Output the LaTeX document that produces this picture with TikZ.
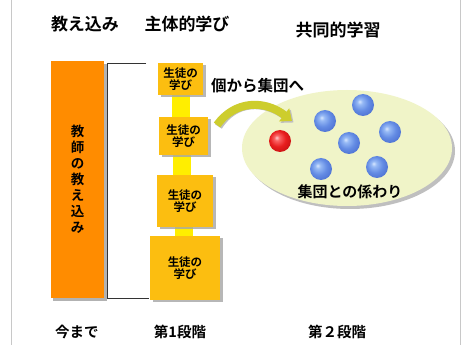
\documentclass[tikz,border=0pt]{standalone}
\usepackage{fontspec}
\newfontfamily\cjk{Noto Sans CJK JP}[BoldFont={Noto Sans CJK JP Bold}]
\usetikzlibrary{shadows,arrows.meta,shapes.geometric}
\definecolor{orangebar}{RGB}{255,140,0}
\definecolor{goldbox}{RGB}{252,190,16}
\definecolor{linkyel}{RGB}{255,238,0}
\definecolor{ellfill}{RGB}{240,244,200}
\definecolor{arrowol}{RGB}{205,205,45}
\definecolor{frameg}{RGB}{200,200,200}
\definecolor{blhi}{RGB}{215,230,255}
\definecolor{blmid}{RGB}{150,185,245}
\definecolor{blbase}{RGB}{100,140,228}
\definecolor{bldark}{RGB}{70,105,205}
\definecolor{rdhi}{RGB}{255,205,205}
\definecolor{rdmid}{RGB}{250,100,100}
\definecolor{rdbase}{RGB}{232,30,30}
\definecolor{rddark}{RGB}{190,15,15}
\pgfdeclareradialshading{myballb}{\pgfqpoint{-8bp}{8bp}}{color(0bp)=(blhi); color(6bp)=(blmid); color(18bp)=(blbase); color(34bp)=(bldark); color(50bp)=(bldark)}
\pgfdeclareradialshading{myballr}{\pgfqpoint{-8bp}{8bp}}{color(0bp)=(rdhi); color(6bp)=(rdmid); color(18bp)=(rdbase); color(34bp)=(rddark); color(50bp)=(rddark)}
\tikzset{
  head/.style={font=\cjk\bfseries\fontsize{17}{19}\selectfont, text=black, inner sep=0pt},
  stage/.style={font=\cjk\bfseries\fontsize{14.5}{16}\selectfont, text=black, inner sep=0pt},
  stbox/.style={fill=goldbox, draw=none, drop shadow={shadow xshift=2.5pt, shadow yshift=-2.5pt, fill=black!35, opacity=0.8},
    font=\cjk\bfseries\fontsize{11.5}{11.5}\selectfont, align=center, inner sep=0pt},
  link/.style={fill=linkyel, draw=none},
  ballb/.style={circle, minimum size=22pt, inner sep=0pt, shading=myballb},
  ballr/.style={circle, minimum size=22pt, inner sep=0pt, shading=myballr},
}
\begin{document}
\begin{tikzpicture}[x=1pt,y=-1pt]
\useasboundingbox (0,0) rectangle (475,345);
\fill[white] (0,0) rectangle (475,345);
% frame lines
\draw[frameg, line width=0.8pt] (11.5,0) -- (11.5,345);
\draw[frameg, line width=0.8pt] (460.5,0) -- (460.5,345);
% headings
\node[head] (h1) at (85,24) {教え込み};
\node[head] (h2) at (187,24) {主体的学び};
\node[head] (h3) at (338,30) {共同的学習};
% bottom labels
\node[stage] (b1) at (77,332) {今まで};
\node[stage] (b2) at (180,332) {第1段階};
\node[stage] (b3) at (337,332) {第２段階};
% orange bar
\fill[black!30] (53,64) rectangle (107,301);
\node[fill=orangebar, minimum width=53pt, minimum height=237pt, inner sep=0pt,
  font=\cjk\bfseries\fontsize{13.5}{16}\selectfont, align=center] (bar) at (77.5,179.5)
  {教\\師\\の\\教\\え\\込\\み};
% bracket
\coordinate (bt) at (146,63);
\coordinate (bb) at (149,298.5);
\draw[black!80, line width=0.9pt] (bt) -- (107.5,63) -- (107.5,298.5) -- (bb);
% connectors between boxes
\fill[link] (172,94) rectangle (190,118);
\fill[link] (173,154) rectangle (191,176);
\fill[link] (175,226) rectangle (193,237);
% student boxes
\node[stbox, minimum width=45pt, minimum height=32pt] (s1) at (180.5,79) {生徒の\\学び};
\node[stbox, minimum width=49pt, minimum height=38pt] (s2) at (183.5,136) {生徒の\\学び};
\node[stbox, minimum width=56pt, minimum height=52pt] (s3) at (185,201) {生徒の\\学び};
\node[stbox, minimum width=70pt, minimum height=64pt] (s4) at (185,268) {生徒の\\学び};
% text
\node[font=\cjk\bfseries\fontsize{15.5}{17}\selectfont, anchor=west, inner sep=0pt] (ind) at (211,86) {個から集団へ};
% ellipse
\fill[black!25] (350,151) ellipse (105pt and 58pt);
\node[ellipse, fill=ellfill, minimum width=210pt, minimum height=116pt, inner sep=0pt] (ell) at (347,148) {};
% curved arrow
\coordinate (a0) at (217,125);
\coordinate (a1) at (292,121);
\draw[black!25, line width=8pt, -{Triangle[width=16pt,length=10pt]}] ([shift={(1.5,1.5)}]a0) .. controls (235,100) and (265,100) .. ([shift={(1.5,1.5)}]a1);
\draw[arrowol, line width=8pt, -{Triangle[width=16pt,length=10pt]}] (a0) .. controls (235,100) and (265,100) .. (a1);
% balls
\node[ballr] (r1) at (280,141) {};
\node[ballb] (u1) at (325,121) {};
\node[ballb] (u2) at (363,105) {};
\node[ballb] (u3) at (390,132) {};
\node[ballb] (u4) at (349,143) {};
\node[ballb] (u5) at (321,169) {};
\node[ballb] (u6) at (377,167) {};
\node[font=\cjk\bfseries\fontsize{15}{17}\selectfont, inner sep=0pt] (grp) at (350,192) {集団との係わり};
\end{tikzpicture}
\end{document}
